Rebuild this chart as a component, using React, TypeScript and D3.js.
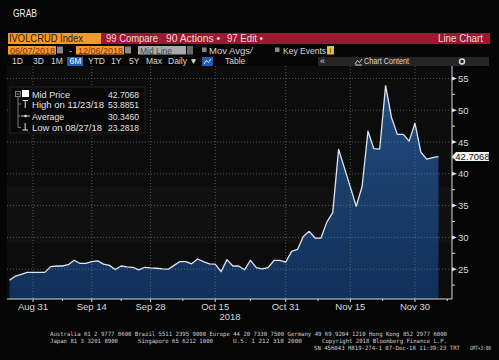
import React from 'react';
import * as d3 from 'd3';

const startDate = new Date(2018, 7, 27);
const values = [
  23.2818, 23.9, 24.2, 24.5, 24.5, 24.5, 24.5, 25.4, 25.5, 25.5,
  25.7, 26.4, 25.9, 25.9, 26.2, 26.3, 25.8, 25.6, 24.95, 25.5,
  25.35, 25.3, 24.9, 25.3, 25.2, 25.15, 25.05, 25.0, 25.6, 26.2,
  26.2, 25.85, 26.6, 26.2, 25.85, 25.8, 24.6, 26.5, 25.5, 25.5,
  24.9, 26.4, 25.25, 25.05, 25.25, 26.37, 26.37, 26.1, 27.8, 28.1,
  30.15, 30.95, 29.9, 29.9, 32.4, 33.9, 43.85, 40.9, 37.9, 34.9,
  38.0, 46.7, 43.95, 43.9, 53.8851, 48.85, 46.2, 46.2, 45.15, 47.95,
  43.4, 42.3, 42.55, 42.7068,
];
const majorTickDates = ['2018-08-31', '2018-09-14', '2018-09-28', '2018-10-15', '2018-10-31', '2018-11-15', '2018-11-30'];
const majorTickLabels = ['Aug 31', 'Sep 14', 'Sep 28', 'Oct 15', 'Oct 31', 'Nov 15', 'Nov 30'];
const yTicks = [25, 30, 35, 40, 45, 50, 55];
const yMinorTicks = [22.5, 27.5, 32.5, 37.5, 42.5, 47.5, 52.5];
const legendLabels = ['Mid Price', 'High on 11/23/18', 'Average', 'Low on 08/27/18'];
const legendValues = ['42.7068', '53.8851', '30.3460', '23.2818'];
const lastValueLabel = '42.7068';
const footer1 = 'Australia 61 2 9777 8600 Brazil 5511 2395 9000 Europe 44 20 7330 7500 Germany 49 69 9204 1210 Hong Kong 852 2977 6000';

const fmt = d3.timeFormat('%Y-%m-%d');

function tradingDates(n: number): Date[] {
  const out: Date[] = [];
  let d = startDate;
  while (out.length < n) {
    const wd = d.getDay();
    if (wd !== 0 && wd !== 6) out.push(d);
    d = d3.timeDay.offset(d, 1);
  }
  return out;
}

const UI = '"Liberation Sans", Arial, sans-serif';
const MONO = '"DejaVu Sans Mono", monospace';

function T(props: any) {
  const { x, y, w, size = 9, fill = '#dcdcdc', anchor, family = UI, children, weight } = props;
  return (
    <text x={x} y={y} fontSize={size} fill={fill} fontFamily={family} textAnchor={anchor}
      fontWeight={weight}
      textLength={w} lengthAdjust={w ? 'spacingAndGlyphs' : undefined}>{children}</text>
  );
}

export default function App() {
  const dates = tradingDates(values.length);
  const majorIdx = majorTickDates.map(s => dates.findIndex(dt => fmt(dt) === s));
  const minorIdx: number[] = [];
  for (let i = 1; i < majorIdx.length; i++) minorIdx.push((majorIdx[i - 1] + majorIdx[i]) / 2);
  minorIdx.push(majorIdx[majorIdx.length - 1] + (majorIdx[majorIdx.length - 1] - majorIdx[majorIdx.length - 2]) / 2);

  const L = 7, R = 452, TOP = 66, B = 299;
  const x = d3.scaleLinear().domain([-0.43, 75.3]).range([L, R]);
  const y = d3.scaleLinear().domain([20.31, 56.96]).range([B, TOP]);

  const area = d3.area<number>().x((_, i) => x(i)).y0(B).y1(d => y(d));
  const line = d3.line<number>().x((_, i) => x(i)).y(d => y(d));
  const last = values[values.length - 1];
  const ly = y(last);

  const legY = [97.5, 108, 119.5, 130.5];
  const legW = [38, 72, 32, 70];

  return (
    <svg width={499} height={360} style={{ position: 'fixed', left: 0, top: 0, background: '#050505' }}>
      <defs>
        <linearGradient id="fillg" x1="0" y1={y(55)} x2="0" y2={B} gradientUnits="userSpaceOnUse">
          <stop offset="0" stopColor="#234d84" />
          <stop offset="0.55" stopColor="#193c69" />
          <stop offset="1" stopColor="#10305a" />
        </linearGradient>
      </defs>
      <rect x={0} y={0} width={499} height={360} fill="#050505" />
      {/* title */}
      <T x={13} y={17} size={10} fill="#f0f0f0" w={24}>GRAB</T>

      {/* row 1 */}
      <rect x={8} y={33} width={93} height={11} fill="#f29b2c" />
      <T x={9} y={42} size={10.5} fill="#2a1a0a" w={74}>IVOLCRUD Index</T>
      <rect x={101} y={33} width={389} height={11} fill="#9c1830" />
      <T x={106} y={42} size={10} fill="#f3dada" w={52}>99 Compare</T>
      <T x={166} y={42} size={10} fill="#f3dada" w={54}>90 Actions •</T>
      <T x={227} y={42} size={10} fill="#f3dada" w={36}>97 Edit •</T>
      <T x={438} y={42} size={10} fill="#f3dada" w={45}>Line Chart</T>

      {/* row 2 */}
      <rect x={8} y={46} width={48} height={8.5} fill="#f29b2c" />
      <T x={10} y={53.5} size={9} fill="#8a2a10" w={45}>06/07/2018</T>
      <rect x={57} y={46.5} width={6} height={7} fill="#888" />
      <T x={69} y={53.5} size={9} fill="#ddd">-</T>
      <rect x={76} y={46} width={48} height={8.5} fill="#f29b2c" />
      <T x={78} y={53.5} size={9} fill="#8a2a10" w={45}>12/06/2018</T>
      <rect x={125} y={46.5} width={6} height={7} fill="#888" />
      <rect x={138} y={46} width={48} height={8.5} fill="#a9a9a9" />
      <T x={140} y={53.5} size={9} fill="#444" w={32}>Mid Line</T>
      <rect x={187} y={46} width={6} height={8.5} fill="#6a6a6a" />
      <rect x={202} y={47.5} width={4.5} height={4.5} fill="#888" />
      <T x={209} y={53.5} size={9} fill="#d8d8d8" w={41}>Mov Avgs</T>
      <line x1={250} y1={53.5} x2={253} y2={47} stroke="#aaa" strokeWidth={1} />
      <rect x={275} y={47.5} width={4.5} height={4.5} fill="#888" />
      <T x={283} y={53.5} size={9} fill="#d8d8d8" w={43}>Key Events</T>
      <rect x={327} y={46} width={7} height={8.5} fill="#e8c22a" />
      <T x={329.5} y={53} size={8} fill="#333">i</T>

      {/* row 3 */}
      <T x={12} y={64} size={8.5} fill="#d8d8d8">1D</T>
      <T x={33} y={64} size={8.5} fill="#d8d8d8">3D</T>
      <T x={51} y={64} size={8.5} fill="#d8d8d8">1M</T>
      <rect x={67} y={57} width={16} height={9} fill="#1d5fb3" />
      <T x={69.5} y={64} size={8.5} fill="#ffffff">6M</T>
      <T x={88} y={64} size={8.5} fill="#d8d8d8">YTD</T>
      <T x={111} y={64} size={8.5} fill="#d8d8d8">1Y</T>
      <T x={129} y={64} size={8.5} fill="#d8d8d8">5Y</T>
      <T x={146} y={64} size={8.5} fill="#d8d8d8">Max</T>
      <T x={168} y={64} size={8.5} fill="#d8d8d8">Daily ▼</T>
      <rect x={202} y={57} width={11} height={9} fill="#1d5fb3" />
      <path d="M204,64 L206.5,60.5 L208.5,62.5 L211,59" stroke="#fff" fill="none" strokeWidth={0.9} />
      <T x={225} y={64} size={8.5} fill="#d8d8d8">Table</T>
      <rect x={318} y={57} width={171} height={9} fill="#262626" />
      <T x={320} y={64} size={9} fill="#d8d8d8">«</T>
      <path d="M355,64 L357.5,60.5 L359.5,62.5 L362,59 M355,65 L362,65" stroke="#ddd" fill="none" strokeWidth={0.9} />
      <T x={364} y={64} size={8.5} fill="#d8d8d8" w={45}>Chart Content</T>
      <circle cx={462} cy={61.5} r={2.5} fill="none" stroke="#ddd" strokeWidth={1.4} />

      {/* plot background */}
      <rect x={L} y={TOP} width={R - L} height={B - TOP} fill="#0c0c0c" />
      <rect x={L} y={187} width={R - L} height={56} fill="#ffffff" opacity={0.025} />

      {/* area */}
      <path d={area(values) || ''} fill="url(#fillg)" />

      {/* gridlines */}
      {yTicks.map(t => (
        <line key={'hg' + t} x1={L} x2={R} y1={y(t)} y2={y(t)} stroke="#8a8a8a" strokeWidth={0.8} strokeDasharray="1,2" opacity={0.75} />
      ))}
      {majorIdx.map((i, k) => (
        <line key={'vg' + k} x1={x(i)} x2={x(i)} y1={TOP} y2={B} stroke="#8a8a8a" strokeWidth={0.8} strokeDasharray="1,2" opacity={0.75} />
      ))}

      <path d={line(values) || ''} fill="none" stroke="#dde4ee" strokeWidth={1.3} strokeLinejoin="round" />

      {/* legend */}
      <rect x={10} y={87} width={135} height={46} fill="#080808" stroke="#2a2a2a" strokeWidth={0.8} />
      <rect x={15.5} y={91.5} width={5} height={5} fill="none" stroke="#999" strokeWidth={0.8} />
      <line x1={16.5} x2={19.5} y1={94} y2={94} stroke="#bbb" strokeWidth={0.8} />
      <path d="M18,96.5 V127.5 M18,104 H21 M18,116 H20 M18,127.5 H21" stroke="#999" strokeWidth={0.8} fill="none" />
      <rect x={22} y={90} width={7} height={7} fill="#ffffff" />
      <path d="M22.5,100.5 H28 M25.2,100.5 V108" stroke="#ddd" strokeWidth={1} fill="none" />
      <path d="M21,116 H30" stroke="#ddd" strokeWidth={0.9} fill="none" />
      <circle cx={25.5} cy={116} r={1.3} fill="#ddd" />
      <path d="M25.2,123 V130 M22.5,130 H28" stroke="#ddd" strokeWidth={1} fill="none" />
      {legendLabels.map((lab, i) => (
        <g key={'lg' + i}>
          <T x={32} y={legY[i]} size={9.5} fill="#e2e2e2" w={legW[i]}>{lab}</T>
          <T x={108} y={legY[i]} size={9.5} fill="#e2e2e2" w={31}>{legendValues[i]}</T>
        </g>
      ))}

      {/* y axis */}
      <line x1={R} x2={R} y1={TOP} y2={B} stroke="#d8d8d8" strokeWidth={1} />
      {yTicks.map(t => (
        <g key={'yt' + t}>
          <path d={`M${R},${y(t) - 2} L${R + 5},${y(t)} L${R},${y(t) + 2} Z`} fill="#e0e0e0" />
          <T x={R + 6} y={y(t) + 3.5} size={9.5} fill="#d8d8d8">{String(t)}</T>
        </g>
      ))}
      {yMinorTicks.map(t => (
        <line key={'ym' + t} x1={R} x2={R + 3} y1={y(t)} y2={y(t)} stroke="#d8d8d8" strokeWidth={1} />
      ))}

      {/* last value label */}
      <path d={`M${R},${ly} L${R + 4},${ly - 4.5} H${R + 37} V${ly + 4.5} H${R + 4} Z`} fill="#f4f4f4" />
      <T x={R + 20.5} y={ly + 3.5} size={9.5} fill="#111" anchor="middle">{lastValueLabel}</T>

      {/* x axis */}
      <line x1={L} x2={R} y1={B} y2={B} stroke="#d8d8d8" strokeWidth={1} />
      {majorIdx.map((i, k) => (
        <g key={'xt' + k}>
          <line x1={x(i)} x2={x(i)} y1={B} y2={B + 3} stroke="#d8d8d8" strokeWidth={1} />
          <T x={x(i)} y={309.5} size={9.5} fill="#d8d8d8" anchor="middle">{majorTickLabels[k]}</T>
        </g>
      ))}
      {minorIdx.map((i, k) => (
        <line key={'xm' + k} x1={x(i)} x2={x(i)} y1={B} y2={B + 2} stroke="#d8d8d8" strokeWidth={1} />
      ))}
      <T x={230} y={320} size={9.5} fill="#d8d8d8" anchor="middle">2018</T>

      {/* footer */}
      <T x={50} y={335.5} size={5.8} fill="#cfcfcf" family={MONO} w={397}>{footer1}</T>
      <T x={50} y={343} size={5.8} fill="#cfcfcf" family={MONO} w={68}>Japan 81 3 3201 8900</T>
      <T x={138} y={343} size={5.8} fill="#cfcfcf" family={MONO} w={75}>Singapore 65 6212 1000</T>
      <T x={233} y={343} size={5.8} fill="#cfcfcf" family={MONO} w={69}>U.S. 1 212 318 2000</T>
      <T x={322} y={343} size={5.8} fill="#cfcfcf" family={MONO} w={125}>Copyright 2018 Bloomberg Finance L.P.</T>
      <T x={314} y={350} size={5.8} fill="#cfcfcf" family={MONO} w={146}>SN 456043 H819-274-1 07-Dec-18 11:39:23 TRT</T>
      <T x={470} y={350} size={5.8} fill="#cfcfcf" family={MONO} w={21}>GMT+3:00</T>
    </svg>
  );
}
